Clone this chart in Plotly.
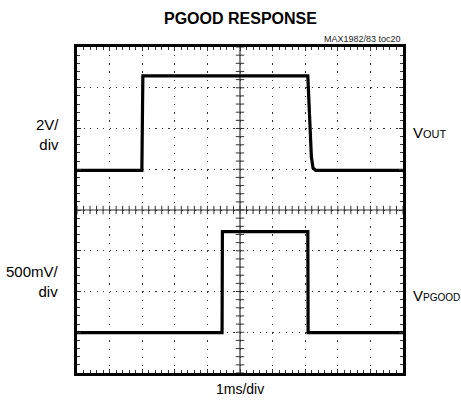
import plotly.graph_objects as go

# time in divisions (1 ms/div), level in screen divisions
vout_t = [0, 1.99, 2.02, 7.08, 7.14, 7.19, 7.24, 7.32, 10]
vout_v = [4.97, 4.97, 7.29, 7.29, 6.2, 5.3, 5.03, 4.97, 4.97]

pgood_t = [0, 4.45, 4.46, 7.08, 7.09, 10]
pgood_v = [0.99, 0.99, 3.47, 3.47, 0.99, 0.99]

x_div = list(range(11))
y_div = list(range(9))
minor_x = [i / 5 for i in range(51)]
minor_y = [i / 5 for i in range(41)]

FONT = "Liberation Sans, Arial, sans-serif"

fig = go.Figure()

# center graticule cross with small tick marks
fig.add_trace(go.Scatter(x=minor_x, y=[4] * len(minor_x), mode="lines+markers",
                         line=dict(color="#333", width=1.2),
                         marker=dict(symbol="line-ns", size=6, line=dict(color="#333", width=1)),
                         hoverinfo="skip", showlegend=False))
fig.add_trace(go.Scatter(x=[5] * len(minor_y), y=minor_y, mode="lines+markers",
                         line=dict(color="#333", width=1.2),
                         marker=dict(symbol="line-ew", size=6, line=dict(color="#333", width=1)),
                         hoverinfo="skip", showlegend=False))

fig.add_trace(go.Scatter(x=vout_t, y=vout_v, mode="lines", name="VOUT",
                         line=dict(color="black", width=3.2), showlegend=False))
fig.add_trace(go.Scatter(x=pgood_t, y=pgood_v, mode="lines", name="VPGOOD",
                         line=dict(color="black", width=3.2), showlegend=False))

axis_common = dict(
    showline=True, linecolor="black", linewidth=3, mirror="ticks",
    ticks="inside", ticklen=4, tickcolor="#333", tickwidth=1,
    showticklabels=False, zeroline=False,
    showgrid=True, gridcolor="#333", gridwidth=1.3,
    minor=dict(ticks="inside", ticklen=3, tickcolor="#333", tickwidth=1, showgrid=False),
)

fig.update_xaxes(range=[0, 10], tickvals=x_div, minor_dtick=0.2,
                 griddash="1.3px,6.85px", **axis_common)
fig.update_yaxes(range=[0, 8], tickvals=y_div, minor_dtick=0.2,
                 griddash="1.3px,5.22px", **axis_common)

fig.add_annotation(text="<b>PGOOD RESPONSE</b>", x=0.5, y=1.0, xref="paper", yref="paper",
                   yanchor="middle", yshift=29, showarrow=False,
                   font=dict(size=16, family=FONT, color="black"))
fig.add_annotation(text="MAX1982/83 toc20", x=1.0, y=1.0, xref="paper", yref="paper",
                   xanchor="right", yanchor="middle", yshift=8, showarrow=False,
                   font=dict(size=9, family=FONT, color="#222"))

fig.add_annotation(text="2V/<br>div", x=0, y=5.85, xref="paper", yref="y", xanchor="right",
                   xshift=-16, align="right", showarrow=False,
                   font=dict(size=15, family=FONT, color="black"))
fig.add_annotation(text="500mV/<br>div", x=0, y=2.25, xref="paper", yref="y", xanchor="right",
                   xshift=-16, align="right", showarrow=False,
                   font=dict(size=15, family=FONT, color="black"))
fig.add_annotation(text='V<span style="font-size:11px">OUT</span>', x=1, y=5.91,
                   xref="paper", yref="y", xanchor="left", xshift=8, showarrow=False,
                   font=dict(size=15, family=FONT, color="black"))
fig.add_annotation(text='V<span style="font-size:10px">PGOOD</span>', x=1, y=1.89,
                   xref="paper", yref="y", xanchor="left", xshift=8, showarrow=False,
                   font=dict(size=15, family=FONT, color="black"))
fig.add_annotation(text="1ms/div", x=0.5, y=0, xref="paper", yref="paper",
                   yanchor="top", yshift=-6, showarrow=False,
                   font=dict(size=14, family=FONT, color="black"))

fig.update_layout(
    width=461, height=404,
    margin=dict(l=77, r=58, t=47, b=31),
    paper_bgcolor="white", plot_bgcolor="white",
)

# drop the default page margin so the figure fills the window exactly
fig.write_html("out.html", config={"displayModeBar": False},
               post_script="document.body.style.margin='0';document.body.style.overflow='hidden';")
